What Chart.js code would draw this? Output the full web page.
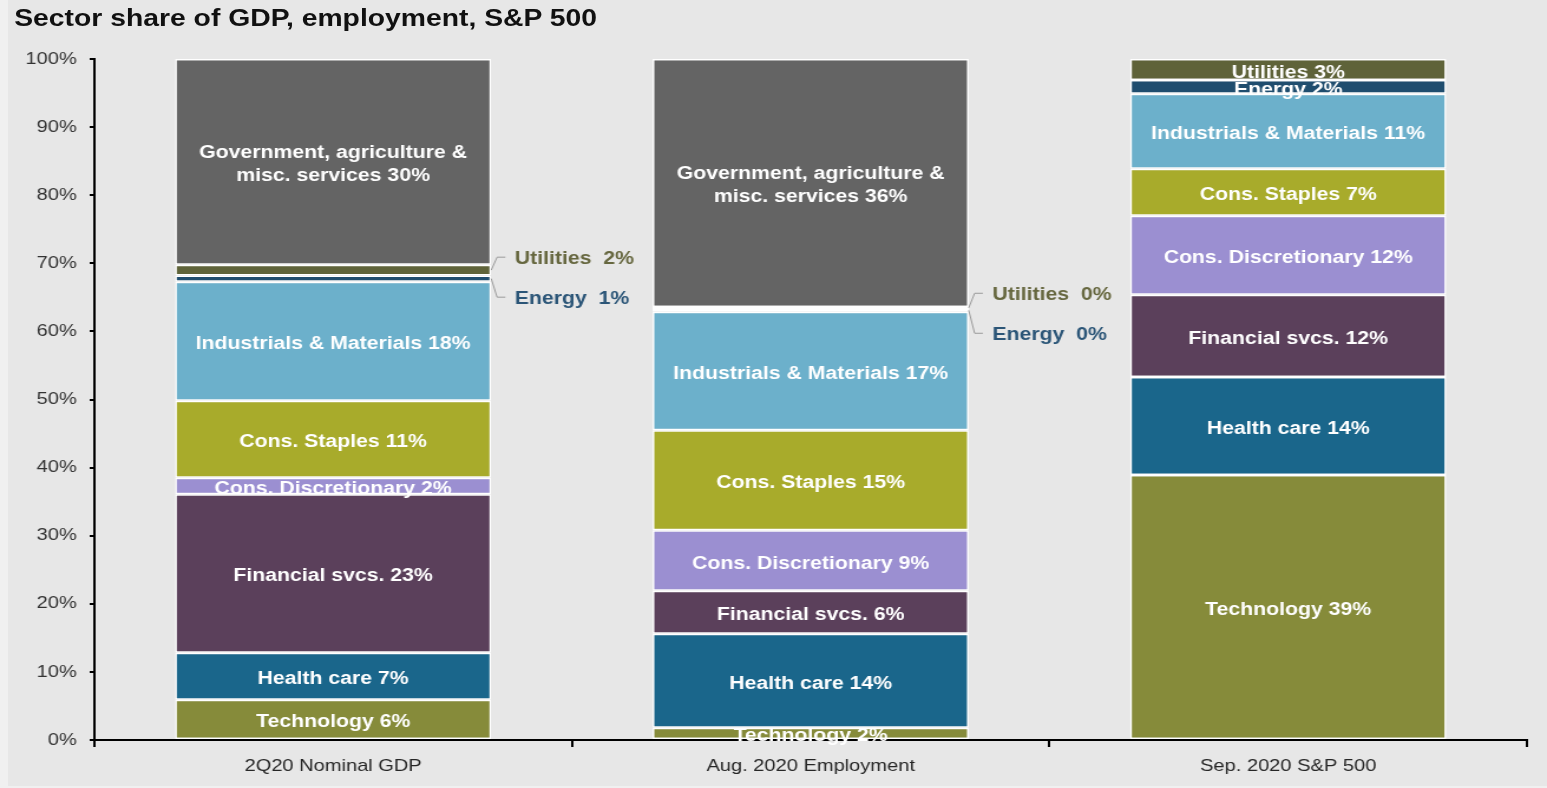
<!DOCTYPE html>
<html lang="en">
<head>
  <meta charset="UTF-8">
  <title>Sector share of GDP, employment, S&amp;P 500</title>
  <script src="https://cdn.jsdelivr.net/npm/chart.js"></script>
  <style>
    body, html {
      margin: 0;
      padding: 0;
      background-color: #f0f0f0;
      font-family: "Liberation Sans", Arial, sans-serif;
    }

    #panel {
      position: absolute;
      left: 8px;
      top: 0;
      width: 1539px;
      height: 786px;
      background-color: #e7e7e7;
    }

    /* the whole chart is drawn a bit narrow and stretched out sideways */
    #stretch {
      position: absolute;
      left: 0;
      top: 0;
      width: 1311px;
      height: 788px;
      transform: scaleX(1.18);
      transform-origin: 0 0;
    }

    #myChart {
      position: absolute;
      left: 0;
      top: 0;
    }

    #title {
      position: absolute;
      left: 12px;
      top: 6px;
      font-weight: bold;
      font-size: 24px;
      line-height: 24px;
      color: #111;
      white-space: nowrap;
    }
  </style>
</head>
<body>
  <div id="panel"></div>
  <div id="stretch">
    <canvas id="myChart" width="1311" height="788"></canvas>
    <div id="title">Sector share of GDP, employment, S&amp;P 500</div>
  </div>

  <script>
    const categories = ['2Q20 Nominal GDP', 'Aug. 2020 Employment', 'Sep. 2020 S&P 500'];

    // shares in %, bottom of the stack first
    const technology  = [5.9, 1.8, 38.9];
    const healthCare  = [6.9, 13.8, 14.4];
    const financials  = [23.3, 6.3, 12.1];
    const consDisc    = [2.4, 8.9, 11.6];
    const consStaples = [11.3, 14.7, 6.9];
    const industrials = [17.5, 17.4, 11.0];
    const energy      = [0.9, 0.4, 2.0];
    const utilities   = [1.6, 0.3, 3.1];
    const government  = [30.2, 36.4, 0];

    // writes the sector name + rounded share on each piece of the stacks;
    // tiny Energy / Utilities pieces get a label off to the right with a leader line
    const segmentLabels = {
      id: 'segmentLabels',
      afterDatasetsDraw(chart) {
        const ctx = chart.ctx;
        const sets = chart.data.datasets;
        const iEnergy = sets.findIndex(d => d.label === 'Energy');
        const iUtil = sets.findIndex(d => d.label === 'Utilities');
        ctx.save();
        ctx.font = 'bold 18px "Liberation Sans", Arial, sans-serif';
        ctx.textBaseline = 'middle';

        sets.forEach((ds, di) => {
          const meta = chart.getDatasetMeta(di);
          meta.data.forEach((bar, i) => {
            const v = ds.data[i];
            if (!v) return;
            const pct = Math.round(v) + '%';
            const mid = (bar.y + bar.base) / 2;

            if (ds.callout && energy[i] + utilities[i] < 4) {
              const eBar = chart.getDatasetMeta(iEnergy).data[i];
              const uBar = chart.getDatasetMeta(iUtil).data[i];
              const groupMid = (eBar.base + uBar.y) / 2;
              const ly = ds.callout === 'up' ? groupMid - 16 : groupMid + 24;
              const xr = bar.x + bar.width / 2;
              ctx.strokeStyle = '#9a9a9a';
              ctx.lineWidth = 1;
              ctx.beginPath();
              ctx.moveTo(xr, mid);
              ctx.lineTo(xr + 5, ly);
              ctx.lineTo(xr + 12, ly);
              ctx.stroke();
              ctx.fillStyle = ds.textColor;
              ctx.textAlign = 'left';
              ctx.fillText(ds.label + '  ' + pct, xr + 20, ly + 2);
              return;
            }

            const lines = (ds.lines || [ds.label]).slice();
            lines[lines.length - 1] += ' ' + pct;
            ctx.fillStyle = '#fff';
            ctx.textAlign = 'center';
            lines.forEach((t, k) => {
              ctx.fillText(t, bar.x, mid + 3 + (k - (lines.length - 1) / 2) * 23);
            });
          });
        });
        ctx.restore();
      }
    };

    Chart.defaults.font.family = '"Liberation Sans", Arial, sans-serif';

    const ctx = document.getElementById('myChart').getContext('2d');
    const myChart = new Chart(ctx, {
      type: 'bar',
      data: {
        labels: categories,
        datasets: [
          { label: 'Technology', data: technology, backgroundColor: '#868b3a' },
          { label: 'Health care', data: healthCare, backgroundColor: '#1a668b' },
          { label: 'Financial svcs.', data: financials, backgroundColor: '#5b405b' },
          { label: 'Cons. Discretionary', data: consDisc, backgroundColor: '#9b8fd1' },
          { label: 'Cons. Staples', data: consStaples, backgroundColor: '#a8ab2b' },
          { label: 'Industrials & Materials', data: industrials, backgroundColor: '#6cb0cb' },
          { label: 'Energy', data: energy, backgroundColor: '#1f4d6e', callout: 'down', textColor: '#2b5577' },
          { label: 'Utilities', data: utilities, backgroundColor: '#5f6339', callout: 'up', textColor: '#66673f' },
          {
            label: 'Government, agriculture & misc. services',
            lines: ['Government, agriculture &', 'misc. services'],
            data: government,
            backgroundColor: '#646464'
          }
        ]
      },
      options: {
        responsive: false,
        animation: false,
        datasets: {
          bar: {
            categoryPercentage: 1,
            barPercentage: 0.662,
            borderColor: '#ffffff',
            borderWidth: 1.5,
            borderSkipped: false
          }
        },
        layout: {
          padding: { top: 59, right: 17, left: 0, bottom: 0 }
        },
        scales: {
          x: {
            stacked: true,
            grid: {
              offset: true,
              drawOnChartArea: false,
              drawTicks: true,
              tickLength: 7,
              color: '#000',
              lineWidth: 2
            },
            border: { display: true, color: '#000', width: 2 },
            ticks: { color: '#262626', font: { size: 17 }, padding: 9 },
            afterFit: s => { s.height = 48; }
          },
          y: {
            stacked: true,
            min: 0,
            max: 100,
            ticks: {
              stepSize: 10,
              color: '#333',
              font: { size: 17 },
              padding: 11,
              callback: v => v + '%'
            },
            grid: {
              drawOnChartArea: false,
              drawTicks: true,
              tickLength: 4,
              color: '#000',
              lineWidth: 2
            },
            border: { display: true, color: '#000', width: 2 },
            afterFit: s => { s.width = 80; }
          }
        },
        plugins: {
          legend: { display: false },
          tooltip: { enabled: false }
        }
      },
      plugins: [segmentLabels]
    });
  </script>
</body>
</html>
